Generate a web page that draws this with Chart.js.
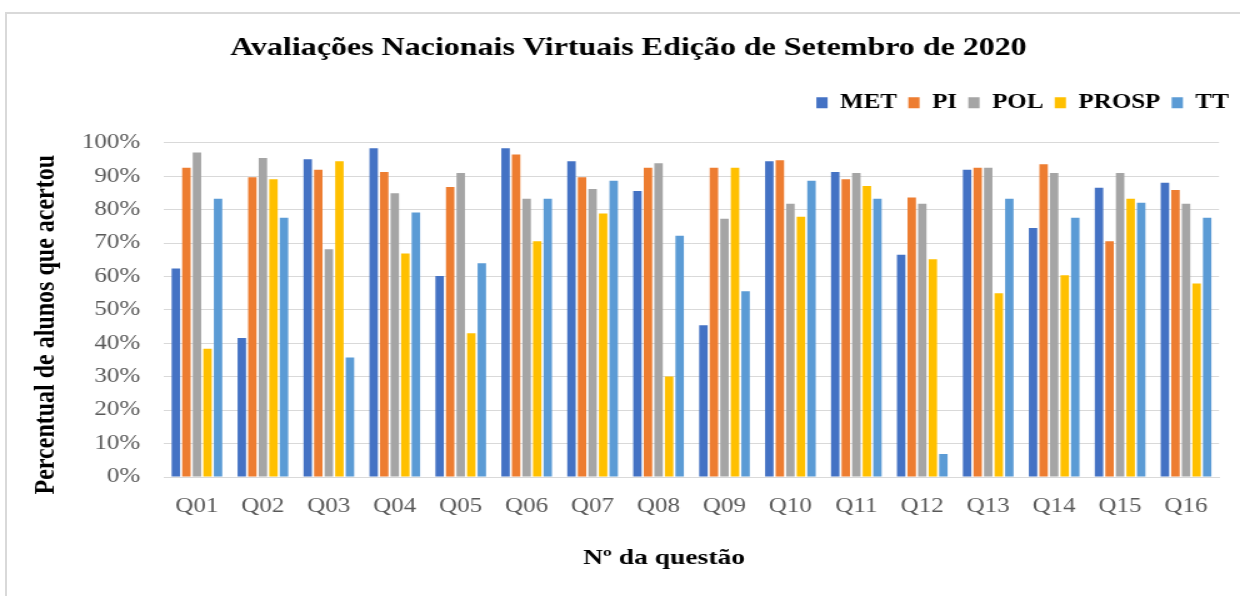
<!DOCTYPE html>
<html>
<head>
<meta charset="utf-8">
<script src="https://cdn.jsdelivr.net/npm/chart.js@4"></script>
<style>
  html, body { margin: 0; padding: 0; background: #fff; overflow: hidden; }
  #frame { position: absolute; left: 5px; top: 12px; width: 1400px; height: 800px;
           border-left: 2px solid #d9d9d9; border-top: 2px solid #d9d9d9; }
  /* the original picture is stretched sideways, so the canvas is too */
  #wrap { position: absolute; left: 0; top: 0; width: 992px; height: 596px;
          transform: scaleX(1.25); transform-origin: 0 0; }
</style>
</head>
<body>
<div id="frame"></div>
<div id="wrap"><canvas id="chart" width="992" height="596"></canvas></div>
<script>
// categories and series (percent of students who answered correctly)
const questions = ['Q01', 'Q02', 'Q03', 'Q04', 'Q05', 'Q06', 'Q07', 'Q08',
                   'Q09', 'Q10', 'Q11', 'Q12', 'Q13', 'Q14', 'Q15', 'Q16'];
const met   = [62.4, 41.6, 95.1, 98.4, 60.2, 98.4, 94.5, 85.6, 45.4, 94.5, 91.3, 66.5, 92.0, 74.5, 86.6, 88.1];
const pi    = [92.6, 89.7, 92.0, 91.3, 86.8, 96.5, 89.7, 92.6, 92.6, 94.8, 89.1, 83.7, 92.6, 93.6, 70.6, 85.9];
const pol   = [97.1, 95.5, 68.2, 84.9, 91.0, 83.3, 86.2, 93.9, 77.3, 81.8, 91.0, 81.8, 92.6, 91.0, 91.0, 81.8];
const prosp = [38.4, 89.1, 94.5, 66.9, 43.0, 70.6, 78.9, 30.1, 92.6, 77.9, 87.1, 65.2, 55.0, 60.4, 83.3, 57.9];
const tt    = [83.3, 77.6, 35.8, 79.2, 64.0, 83.3, 88.7, 72.2, 55.6, 88.7, 83.3, 6.9, 83.3, 77.6, 82.1, 77.6];
const yTicks = [0, 10, 20, 30, 40, 50, 60, 70, 80, 90, 100];

const serif = "'Liberation Serif', 'Times New Roman', serif";

const colors = {
  met: '#4472C4',
  pi: '#ED7D31',
  pol: '#A5A5A5',
  prosp: '#FFC000',
  tt: '#5B9BD5'
};

const bar = (label, data, color) => ({
  label, data,
  backgroundColor: color,
  borderWidth: 0,
  categoryPercentage: 0.8,
  barPercentage: 0.8
});

new Chart(document.getElementById('chart'), {
  type: 'bar',
  data: {
    labels: questions,
    datasets: [
      bar('MET', met, colors.met),
      bar('PI', pi, colors.pi),
      bar('POL', pol, colors.pol),
      bar('PROSP', prosp, colors.prosp),
      bar('TT', tt, colors.tt)
    ]
  },
  options: {
    responsive: false,
    animation: false,
    layout: { padding: { left: 20, right: 0, top: 0, bottom: 0 } },
    plugins: {
      title: {
        display: true,
        text: 'Avaliações Nacionais Virtuais Edição de Setembro de 2020 ',
        color: '#000',
        font: { family: serif, size: 25.6, weight: 'bold', lineHeight: 1.2 },
        padding: { top: 33, bottom: 20 }
      },
      // empty spacer between legend and plot
      subtitle: {
        display: true,
        text: '',
        weight: 500,
        font: { size: 1 },
        padding: { top: 19, bottom: 0 }
      },
      legend: {
        position: 'top',
        align: 'end',
        labels: {
          color: '#000',
          font: { family: serif, size: 20, weight: 'bold' },
          boxWidth: 9,
          boxHeight: 11,
          padding: 9
        }
      },
      tooltip: { enabled: false }
    },
    scales: {
      x: {
        grid: { display: false, drawTicks: false },
        border: { display: true, color: '#d9d9d9', width: 1 },
        ticks: { color: '#595959', font: { family: serif, size: 20 }, padding: 18 },
        title: {
          display: true,
          text: 'Nº da questão        ',
          color: '#000',
          font: { family: serif, size: 22, weight: 'bold' },
          padding: { top: 4, bottom: 24 }
        },
        afterFit: s => { s.height = 119; }
      },
      y: {
        min: 0,
        max: 100,
        afterBuildTicks: s => { s.ticks = yTicks.map(v => ({ value: v })); },
        grid: { color: '#d9d9d9', lineWidth: 1, drawTicks: false },
        border: { display: false },
        ticks: {
          color: '#595959',
          font: { family: serif, size: 20 },
          padding: 19,
          callback: v => v + '%'
        },
        title: {
          display: true,
          text: 'Percentual de alunos que acertou  ',
          align: 'end',
          color: '#000',
          font: { family: serif, size: 24, weight: 'bold' },
          padding: { top: 2, bottom: 4 }
        },
        afterFit: s => { s.width = 111.2; }
      },
      // blank axis that only holds the right margin
      yRight: {
        position: 'right',
        display: true,
        grid: { display: false, drawTicks: false },
        border: { display: false },
        ticks: { display: false },
        afterFit: s => { s.width = 16.8; }
      }
    }
  }
});
</script>
</body>
</html>
